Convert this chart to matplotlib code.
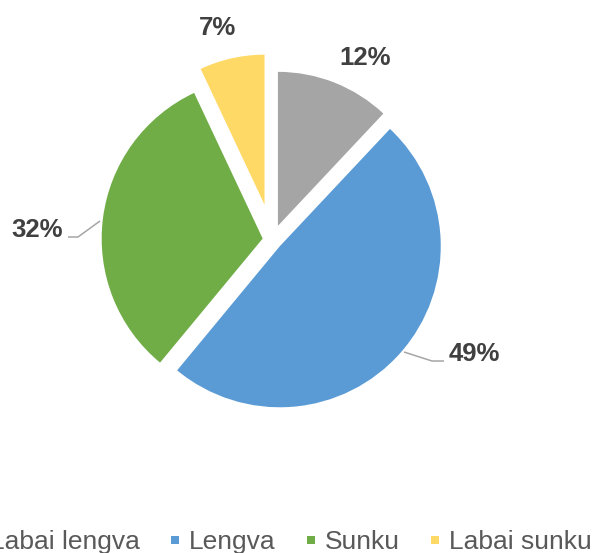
import matplotlib
matplotlib.use("Agg")
from matplotlib import pyplot as plt
from matplotlib.lines import Line2D

# answer categories and their shares (%)
categories = ["Labai lengva", "Lengva", "Sunku", "Labai sunku"]
shares = [12, 49, 32, 7]
colors = ["#A5A5A5", "#5B9BD5", "#70AD47", "#FFD966"]

# figure is drawn in pixel units (y up)
W, H = 595, 553
explode = [15, 9.8, 9.8, 36]
radii = [154, 161, 161, 150]
center = (272.4, H - 239.8)

# label baselines (pixel coords from top) and leader lines
label_pos = [(365.5, 65), (474.5, 361), (36.7, 237), (217, 35)]
leaders = {
    1: [(404, 352), (432, 361), (444, 361)],
    2: [(68, 237), (78, 237), (100, 221)],
}

plt.rcParams["font.family"] = ["Liberation Sans", "DejaVu Sans"]

fig = plt.figure(figsize=(W / 100, H / 100), dpi=100)
ax = fig.add_axes([0, 0, 1, 1])

wedges, _ = ax.pie(
    shares,
    colors=colors,
    explode=explode,
    startangle=90,
    counterclock=False,
    center=center,
    radius=160,
    wedgeprops=dict(linewidth=0),
)
for w, r in zip(wedges, radii):
    w.set_radius(r)

ax.set_xlim(0, W)
ax.set_ylim(0, H)
ax.set_aspect("equal")
ax.axis("off")

for i, (v, (x, y)) in enumerate(zip(shares, label_pos)):
    ax.text(x, H - y, f"{v}%", ha="center", va="baseline",
            fontsize=18.5, fontweight="bold", color="#404040")

for pts in leaders.values():
    ax.plot([p[0] for p in pts], [H - p[1] for p in pts],
            color="#A6A6A6", lw=1.1, solid_capstyle="butt")

handles = [Line2D([], [], marker="s", linestyle="none", markersize=6,
                  markeredgewidth=0, color=c) for c in colors]
fig.legend(
    handles,
    categories,
    loc="center",
    bbox_to_anchor=(280.5 / W, 1 - 542 / H),
    ncol=4,
    frameon=False,
    fontsize=19,
    labelcolor="#595959",
    handlelength=0.5,
    handletextpad=0.29,
    columnspacing=1.08,
    borderpad=0,
    borderaxespad=0,
)

fig.savefig("out.png", dpi=100)
